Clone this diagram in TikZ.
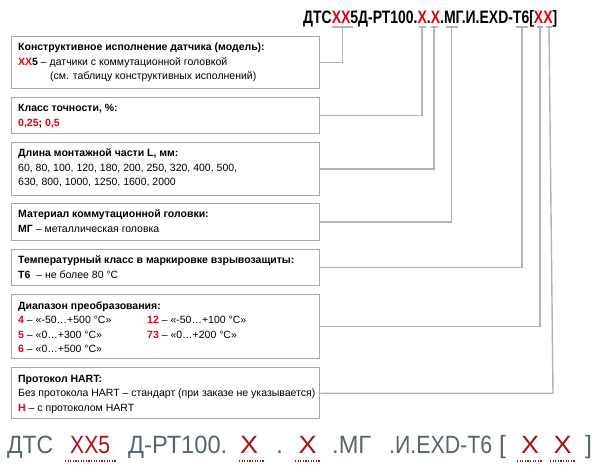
\documentclass[tikz,border=0pt]{standalone}
\usepackage{fontspec}
\setmainfont{Liberation Sans}
\usepackage{graphicx}
\definecolor{boxgray}{HTML}{A9A9A9}
\definecolor{linegray}{HTML}{B3B3B3}
\definecolor{redA}{HTML}{E3000F}
\definecolor{redB}{HTML}{A6141B}
\definecolor{bgray}{HTML}{56666F}
\newcommand{\rd}[1]{\textbf{\color{redA}#1}}
\begin{document}
\begin{tikzpicture}[x=1bp,y=-1bp,
  box/.style={draw=boxgray, line width=1.4bp, anchor=north west, minimum width=308bp, inner sep=0, fill=white},
  txt/.style={anchor=base west, inner sep=0, font=\fontsize{10.5bp}{12bp}\selectfont},
  conn/.style={draw=linegray, line width=1.4bp},
  big/.style={anchor=base west, inner sep=0, font=\fontsize{25bp}{28bp}\selectfont, text=bgray},
  bigr/.style={big, text=redB},
  uline/.style={draw=redB, line width=1.3bp, dash pattern=on 1.2bp off 1.4bp}]
\useasboundingbox (0,0) rectangle (599,470);

% title
\node[anchor=base west, inner sep=0, font=\fontsize{18bp}{20bp}\selectfont\bfseries] (title) at (303,24)
  {\resizebox{254bp}{\height}{ДТС{\color{redA}XX}5Д-РТ100.{\color{redA}X}.{\color{redA}X}.МГ.И.EXD-Т6[{\color{redA}XX}]}};

% ticks
\coordinate (t1) at (342.5,27);
\coordinate (t2) at (422,27);
\coordinate (t3) at (434,27);
\coordinate (t4) at (451.5,27);
\coordinate (t5) at (522,27);
\coordinate (t6) at (540,27);
\coordinate (t7) at (549,27);
\coordinate (t7b) at (553,27);
\draw[conn] ([xshift=-10.5bp]t1) -- ([xshift=10.5bp]t1);
\draw[conn] ([xshift=-3.5bp]t2) -- ([xshift=3.5bp]t2);
\draw[conn] ([xshift=-3.5bp]t3) -- ([xshift=3.5bp]t3);
\draw[conn] ([xshift=-6bp]t4) -- ([xshift=6bp]t4);
\draw[conn] ([xshift=-6bp]t5) -- ([xshift=6bp]t5);
\draw[conn] ([xshift=-3bp]t6) -- ([xshift=3bp]t6);
\draw[conn] ([xshift=-3bp]t7) -- ([xshift=3bp]t7);

% boxes
\node[box, minimum height=52bp] (b1) at (11,36) {};
\node[box, minimum height=36bp] (b2) at (11,97) {};
\node[box, minimum height=53bp] (b3) at (11,142) {};
\node[box, minimum height=37bp] (b4) at (11,203) {};
\node[box, minimum height=36bp] (b5) at (11,249) {};
\node[box, minimum height=64bp] (b6) at (11,294) {};
\node[box, minimum height=51bp] (b7) at (11,367) {};

% connectors
\draw[conn] (b1.east) -| (t1);
\draw[conn] (b2.east) -| (t2);
\draw[conn] (b3.east) -| (t3);
\draw[conn] (b4.east) -| (t4);
\draw[conn] (b5.east) -| (t5);
\draw[conn] (b6.east) -| (t6);
\draw[conn] (b7.east) -- (b7.east -| t7b) -- (t7);

% box 1
\node[txt] (l11) at (18,51) {\textbf{Конструктивное исполнение датчика (модель):}};
\node[txt] (l12) at (18,65.5) {\rd{XX}\textbf{5} – датчики с коммутационной головкой};
\node[txt] (l13) at (50,80) {(см. таблицу конструктивных исполнений)};
% box 2
\node[txt] (l21) at (18,112) {\textbf{Класс точности, \%:}};
\node[txt] (l22) at (18,126.5) {\rd{0,25}\textbf{;} \rd{0,5}};
% box 3
\node[txt] (l31) at (18,157) {\textbf{Длина монтажной части L, мм:}};
\node[txt] (l32) at (18,171.5) {60, 80, 100, 120, 180, 200, 250, 320, 400, 500,};
\node[txt] (l33) at (18,186) {630, 800, 1000, 1250, 1600, 2000};
% box 4
\node[txt] (l41) at (18,218) {\textbf{Материал коммутационной головки:}};
\node[txt] (l42) at (18,232.5) {\textbf{МГ} – металлическая головка};
% box 5
\node[txt] (l51) at (18,264) {\textbf{Температурный класс в маркировке взрывозащиты:}};
\node[txt] (l52) at (18,278.5) {\textbf{Т6}\ \ – не более 80 °C};
% box 6
\node[txt] (l61) at (18,309) {\textbf{Диапазон преобразования:}};
\node[txt] (l62) at (18,323.5) {\rd{4} – «-50…+500 °C»};
\node[txt] (l63) at (18,338) {\rd{5} – «0…+300 °C»};
\node[txt] (l64) at (18,352.5) {\rd{6} – «0…+500 °C»};
\node[txt] (l65) at (147,323.5) {\rd{12} – «-50…+100 °C»};
\node[txt] (l66) at (147,338) {\rd{73} – «0…+200 °C»};
% box 7
\node[txt] (l71) at (18,382) {\textbf{Протокол HART:}};
\node[txt] (l72) at (18,396.5) {Без протокола HART – стандарт (при заказе не указывается)};
\node[txt] (l73) at (18,411) {\rd{H} – с протоколом HART};

% bottom code
\node[big] (c1) at (7,453) {\resizebox{46bp}{\height}{ДТС}};
\node[bigr] (c2) at (70,453) {\resizebox{40bp}{\height}{XX5}};
\node[big] (c3) at (128,453) {\resizebox{99bp}{\height}{Д-РТ100.}};
\node[bigr] (c4) at (240,453) {\resizebox{18bp}{\height}{X}};
\node[big] (c5) at (276,453) {.};
\node[bigr] (c6) at (298.5,453) {\resizebox{18bp}{\height}{X}};
\node[big] (c7) at (332,453) {\resizebox{39bp}{\height}{.МГ}};
\node[big] (c8) at (389,453) {\resizebox{103bp}{\height}{.И.EXD-Т6}};
\node[big] (c9) at (499,453) {[};
\node[bigr] (c10) at (521,453) {\resizebox{18bp}{\height}{X}};
\node[bigr] (c11) at (553.5,453) {\resizebox{18bp}{\height}{X}};
\node[big] (c12) at (585,453) {]};
\coordinate (u1a) at (65,461); \coordinate (u1b) at (117,461);
\coordinate (u2a) at (239,461); \coordinate (u2b) at (265,461);
\coordinate (u3a) at (295,461); \coordinate (u3b) at (320,461);
\coordinate (u4a) at (517,461); \coordinate (u4b) at (542,461);
\coordinate (u5a) at (550,461); \coordinate (u5b) at (575,461);
\draw[uline] (u1a) -- (u1b);
\draw[uline] (u2a) -- (u2b);
\draw[uline] (u3a) -- (u3b);
\draw[uline] (u4a) -- (u4b);
\draw[uline] (u5a) -- (u5b);
\end{tikzpicture}
\end{document}
